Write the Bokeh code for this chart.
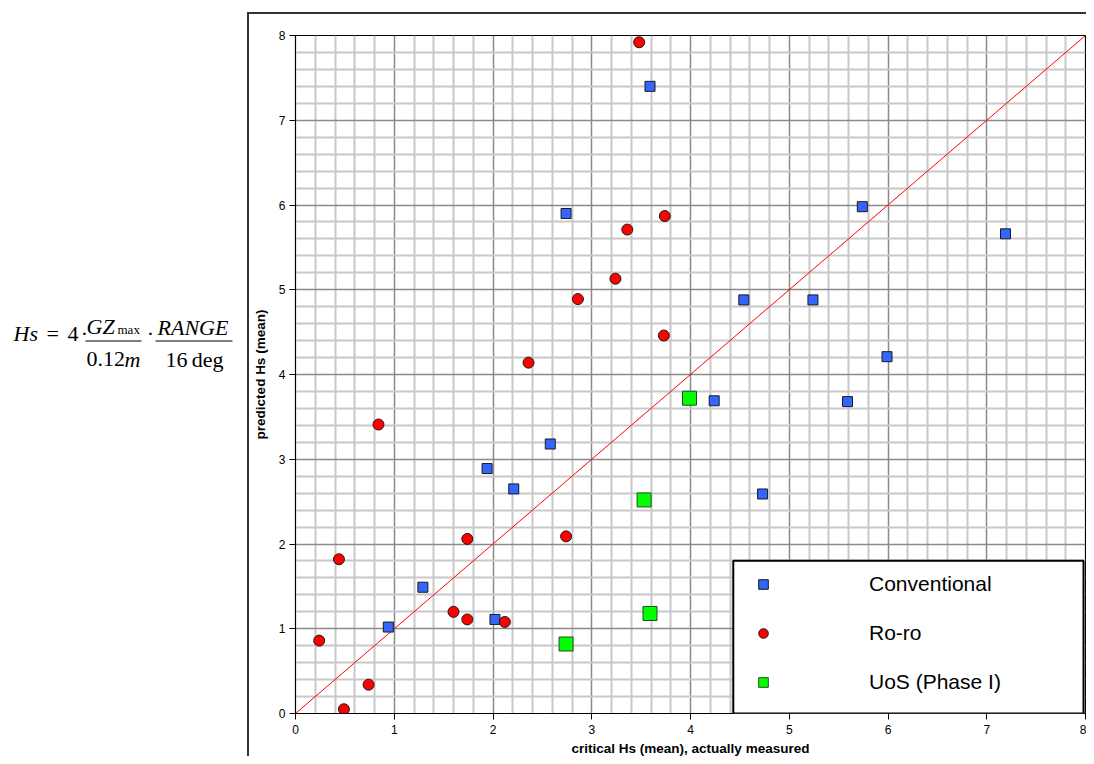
from bokeh.plotting import figure
from bokeh.layouts import row
from bokeh.models import (FixedTicker, Label, BoxAnnotation, Slope, Legend, LegendItem, Range1d)
from bokeh.embed import file_html
from bokeh.resources import INLINE

# ---------------- data ----------------
conv_x = [3.59, 2.74, 5.74, 7.19, 4.54, 5.24, 5.99, 4.24, 5.59, 4.73, 2.58, 1.94, 2.21, 1.29, 2.02, 0.94]
conv_y = [7.40, 5.90, 5.98, 5.66, 4.88, 4.88, 4.21, 3.69, 3.68, 2.59, 3.18, 2.89, 2.65, 1.49, 1.11, 1.02]

roro_x = [3.48, 3.74, 3.36, 3.24, 2.86, 2.36, 3.73, 0.84, 1.74, 2.74, 0.44, 1.60, 1.74, 2.12, 0.24, 0.74, 0.49]
roro_y = [7.92, 5.87, 5.71, 5.13, 4.89, 4.14, 4.46, 3.41, 2.06, 2.09, 1.82, 1.20, 1.11, 1.08, 0.86, 0.34, 0.05]

uos_x = [3.99, 3.53, 3.59, 2.74]
uos_y = [3.72, 2.52, 1.18, 0.82]

major_ticks = [0, 1, 2, 3, 4, 5, 6, 7, 8]
minor_ticks = [0.2, 0.4, 0.6, 0.8, 1.2, 1.4, 1.6, 1.8, 2.2, 2.4, 2.6, 2.8,
               3.2, 3.4, 3.6, 3.8, 4.2, 4.4, 4.6, 4.8, 5.2, 5.4, 5.6, 5.8,
               6.2, 6.4, 6.6, 6.8, 7.2, 7.4, 7.6, 7.8]

series_names = ["Conventional", "Ro-ro", "UoS (Phase I)"]
x_title = "critical Hs (mean), actually measured"
y_title = "predicted Hs (mean)"

# ---------------- layout constants ----------------
TOTAL_W, TOTAL_H = 1086, 756
LEFT_W = 247                      # formula panel width
TOP_GAP = 12                      # space above the chart-area border
CW = TOTAL_W - LEFT_W             # chart figure width
CH = TOTAL_H - TOP_GAP            # chart figure height
ML, MR, MT, MB = 42, 3, 21, 44

# ---------------- chart figure ----------------
p = figure(width=CW, height=CH, x_range=(0, 8), y_range=(0, 8),
           output_backend="svg", toolbar_location=None,
           min_border_left=ML, min_border_right=MR, min_border_top=MT, min_border_bottom=MB,
           background_fill_color="white", border_fill_color="white",
           margin=(TOP_GAP, 0, 0, 0),
           styles={"border-left": "2px solid #333333", "border-top": "2px solid #333333"})
p.outline_line_color = "black"
p.outline_line_width = 1.2

FL = LEFT_W + 2 + ML              # frame left on page (incl. css border)
FB = TOP_GAP + 2 + CH - MB        # frame bottom on page
PX = (CW - ML - MR) / 8.0
PY = (CH - MT - MB) / 8.0
def sx(px):
    return (px - FL) / PX
def sy(py):
    return (FB - py) / PY

for ax in (p.xaxis[0], p.yaxis[0]):
    ax.ticker = FixedTicker(ticks=major_ticks, minor_ticks=minor_ticks)
    ax.major_tick_out = 6
    ax.major_tick_in = 0
    ax.minor_tick_out = 0
    ax.minor_tick_in = 0
    ax.axis_line_color = "black"
    ax.major_tick_line_color = "black"
    ax.major_label_text_font = "Liberation Sans"
    ax.major_label_text_font_size = "12px"
    ax.major_label_text_color = "black"
    ax.axis_label_text_font = "Liberation Sans"
    ax.axis_label_text_font_style = "bold"
    ax.axis_label_text_font_size = "13.5px"
    ax.axis_label_text_color = "black"

p.xaxis.axis_label = x_title
p.yaxis.axis_label = y_title
p.xaxis.major_label_standoff = 5
p.xaxis.axis_label_standoff = 4
p.yaxis.major_label_standoff = 4
p.yaxis.axis_label_standoff = 8

for g in (p.xgrid[0], p.ygrid[0]):
    g.grid_line_color = "#8a8a8a"
    g.grid_line_width = 1.5
    g.minor_grid_line_color = "#c8c8c8"
    g.minor_grid_line_width = 2

# diagonal y = x (below the markers)
p.add_layout(Slope(gradient=1, y_intercept=0, line_color="#ff0000", line_width=1, level="underlay"))

r_conv = p.scatter(conv_x, conv_y, marker="square", size=10, fill_color="#3366ff",
                   line_color="#1a1a1a", line_width=1)
r_roro = p.scatter(roro_x, roro_y, marker="circle", size=11, fill_color="#ff0000",
                   line_color="#1a1a1a", line_width=1)
r_uos = p.scatter(uos_x, uos_y, marker="square", size=14, fill_color="#00ff00",
                  line_color="#1f4f1f", line_width=1)

# legend box
LEG_L, LEG_R, LEG_T = 731, 1083, 561
p.add_layout(BoxAnnotation(left=sx(LEG_L), right=sx(LEG_R), top=sy(LEG_T), bottom=0,
                           fill_color="white", fill_alpha=1, line_color="black",
                           line_width=2, line_alpha=1, line_dash="solid"))

legend = Legend(items=[LegendItem(label=series_names[0], renderers=[r_conv]),
                       LegendItem(label=series_names[1], renderers=[r_roro]),
                       LegendItem(label=series_names[2], renderers=[r_uos])],
                location=(LEG_L - FL, FB - 703))
legend.border_line_alpha = 0
legend.background_fill_alpha = 0
legend.padding = 8
legend.margin = 0
legend.spacing = 25
legend.glyph_width = 40
legend.glyph_height = 24
legend.label_height = 24
legend.label_standoff = 86
legend.label_text_font = "Liberation Sans"
legend.label_text_font_size = "21px"
legend.label_text_color = "black"
p.add_layout(legend)

# ---------------- formula panel ----------------
f = figure(width=LEFT_W, height=TOTAL_H, x_range=Range1d(0, LEFT_W), y_range=Range1d(0, TOTAL_H),
           output_backend="svg", toolbar_location=None, x_axis_type=None, y_axis_type=None,
           min_border_left=0, min_border_right=0, min_border_top=0, min_border_bottom=0,
           background_fill_color="white", border_fill_color="white")
f.outline_line_color = None
f.grid.visible = False

Y_SHIFT = 8   # observed vertical offset of this panel
def fy(py):
    return TOTAL_H - (py + Y_SHIFT)

FS = "22px"
def lab(text, px, py, style="normal", size=FS, align="left"):
    f.add_layout(Label(x=px, y=fy(py), text=text, text_font="Liberation Serif",
                       text_font_style=style, text_font_size=size, text_color="black",
                       text_align=align, text_baseline="middle"))

# vertical positions are the visual centres of each text run
lab("Hs", 13, 334, "italic")
lab("=", 46, 334)
lab("4", 67, 334)
lab("\u00b7", 84, 334, align="center")
lab("GZ", 86, 326, "italic")
lab("max", 117, 330, size="13px")
lab("0.12", 86, 362)
lab("m", 124, 362, "italic")
lab("\u00b7", 150, 334, align="center")
lab("RANGE", 157, 327, "italic")
lab("16\u2009deg", 194, 362, align="center")

for (a, b) in ((85, 141), (155, 232)):
    f.add_layout(BoxAnnotation(left=a, right=b, top=fy(341.5), bottom=fy(342.7),
                               fill_color="black", fill_alpha=1, line_alpha=0))

layout = row(f, p, spacing=0)
open("out.html", "w").write(file_html(layout, INLINE))
